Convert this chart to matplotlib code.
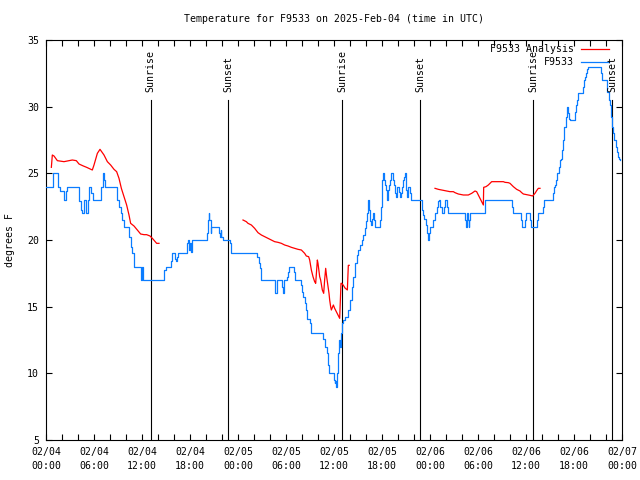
import numpy as np
import matplotlib
matplotlib.use("Agg")
import matplotlib.pyplot as plt
from matplotlib.ticker import MultipleLocator, FixedLocator

plt.rcParams['font.family'] = ['DejaVu Sans Mono']

# ---- data (hours since 2025-02-04 00:00 UTC) ----
obs_t = [0.0, 0.92, 1.5, 1.75, 2.25, 2.46, 2.58, 4.08, 4.33, 4.54, 4.75, 4.96, 5.3, 5.42, 5.58, 5.83,
         6.92, 7.17, 7.3, 7.42, 8.83, 9.13, 9.33, 9.54, 9.75, 10.38, 10.58, 10.79, 11.0, 11.9, 12.0, 12.17,
         14.75, 15.0, 15.58, 15.71, 16.08, 16.25, 16.33, 16.54, 17.67, 17.79, 17.92, 18.0, 18.13, 18.21,
         20.08, 20.21, 20.33, 20.42, 20.58, 20.67, 21.58, 21.75, 21.83, 21.92, 22.08, 23.0, 23.08,
         26.42, 26.625, 26.75, 26.92, 28.67, 28.83, 29.46, 29.58, 29.71, 30.13, 30.25, 30.375, 30.96, 31.17,
         31.83, 32.0, 32.17, 32.33, 32.5, 32.625, 32.96, 33.08, 34.67, 34.92, 35.17, 35.25, 35.375,
         36.0, 36.08, 36.17, 36.25, 36.33, 36.5, 36.58, 36.71, 36.83, 36.92, 37.0, 37.125, 37.42, 37.7,
         38.0, 38.21, 38.42, 38.625, 38.83, 39.04, 39.25, 39.46, 39.67, 39.875, 40.0, 40.125, 40.21, 40.29,
         40.375, 40.5, 40.625, 40.79, 40.92, 41.04, 41.125, 41.75, 41.83, 41.96, 42.04, 42.17, 42.29, 42.375,
         42.5, 42.58, 42.67, 42.79, 42.92, 43.0, 43.125, 43.42, 43.54, 43.625, 43.75, 43.875, 44.17, 44.29,
         44.42, 44.54, 44.67, 44.79, 44.875, 44.96, 45.04, 45.125, 45.21, 45.29, 45.375, 45.5, 45.625,
         46.96, 47.04, 47.17, 47.29, 47.46, 47.58, 47.79, 47.92, 48.04, 48.42, 48.625, 48.92, 49.04, 49.17,
         49.25, 49.46, 49.75, 49.875, 50.17, 50.29, 52.375, 52.46, 52.58, 52.71, 52.83, 52.92, 53.04,
         54.875, 58.21, 58.33, 59.33, 59.46, 59.875, 60.0, 60.5, 60.625, 61.42, 61.54, 62.17, 62.25,
         63.42, 63.5, 63.625, 63.75, 63.92, 64.08, 64.25, 64.42, 64.54, 64.67, 64.79, 64.96, 65.08, 65.21,
         65.29, 65.42, 65.5, 66.125, 66.21, 66.33, 66.46, 66.54, 67.17, 67.25, 67.375, 67.5, 67.67, 67.79,
         69.375, 69.5, 70.08, 70.17, 70.33, 70.5, 70.625, 70.75, 70.92, 71.04, 71.21, 71.33, 71.46, 71.58, 71.8]
obs_v = [24.0, 25.0, 24.0, 23.7, 23.0, 23.7, 24.0, 22.9, 22.25, 22.0, 23.0, 22.0, 23.0, 24.0, 23.5, 23.0,
         24.0, 25.0, 24.5, 24.0, 23.0, 22.5, 22.0, 21.5, 21.0, 20.25, 19.5, 19.0, 18.0, 17.0, 18.0, 17.0,
         17.75, 18.0, 18.4, 19.0, 18.6, 18.4, 18.7, 19.0, 19.75, 20.0, 19.25, 19.75, 19.1, 20.0,
         20.5, 21.5, 22.0, 21.5, 20.5, 21.0, 20.5, 20.25, 20.75, 20.25, 20.0, 19.75, 19.0,
         18.75, 18.25, 17.875, 17.0, 16.0, 17.0, 16.5, 16.0, 17.0, 17.25, 17.6, 18.0, 17.6, 17.0,
         16.6, 16.1, 15.7, 15.25, 14.75, 14.1, 13.75, 13.0, 12.6, 12.0, 11.5, 10.6, 10.0,
         9.5, 9.25, 9.4, 9.0, 10.0, 11.5, 12.5, 12.0, 12.5, 13.0, 13.75, 14.0, 14.25, 14.75,
         15.5, 16.5, 17.25, 18.25, 18.9, 19.25, 19.6, 20.0, 20.4, 20.9, 21.4, 22.0, 22.75, 23.0,
         22.25, 21.4, 21.1, 21.6, 22.0, 21.5, 21.0, 21.5, 22.5, 23.5, 24.5, 25.0, 24.5, 24.1,
         23.75, 23.25, 23.0, 23.75, 24.1, 24.5, 25.0, 24.5, 24.1, 23.5, 23.25, 24.0, 23.6, 23.25,
         23.5, 24.0, 24.5, 24.75, 25.0, 24.5, 23.75, 23.25, 23.5, 24.0, 24.0, 23.5, 23.0,
         22.75, 22.25, 21.9, 21.6, 21.1, 20.55, 20.0, 20.55, 21.0, 21.5, 22.0, 22.5, 22.9, 23.0,
         22.5, 22.0, 22.5, 23.0, 22.5, 22.0, 21.5, 21.0, 22.0, 21.5, 21.0, 21.5, 22.0,
         23.0, 22.5, 22.0, 21.5, 21.0, 21.5, 22.0, 21.5, 21.0, 21.5, 22.0, 22.5, 23.0,
         23.5, 24.0, 24.1, 24.5, 25.0, 25.5, 26.0, 26.1, 26.75, 27.5, 28.5, 29.25, 30.0, 29.75,
         29.5, 29.1, 29.0, 29.6, 30.1, 30.5, 30.75, 31.0, 31.5, 32.0, 32.25, 32.5, 32.8, 33.0,
         32.5, 32.0, 31.75, 31.1, 30.5, 30.1, 29.25, 28.5, 28.0, 27.5, 27.0, 26.6, 26.25, 26.05, 26.0]

ana_t = [0.67, 0.79, 1.0, 1.42, 2.25, 3.29, 3.79, 4.125, 4.67, 5.08, 5.79, 6.0, 6.42, 6.75, 7.25, 7.67,
         8.08, 8.5, 8.83, 9.125, 9.42, 9.75, 10.08, 10.375, 10.58, 11.0, 11.42, 11.83, 12.25, 12.58,
         13.0, 13.33, 13.625, 13.83, 14.125, np.nan,
         24.625, 25.04, 25.25, 25.67, 26.08, 26.5, 26.92, 27.33, 27.75, 28.17, 28.58, 29.0, 29.42, 29.83,
         30.25, 30.67, 31.08, 31.5, 31.92, 32.125, 32.33, 32.54, 32.83, 32.96, 33.17, 33.375, 33.58,
         33.71, 33.83, 33.92, 34.0, 34.125, 34.21, 34.33, 34.54, 34.71, 34.83, 34.96, 35.08, 35.25,
         35.375, 35.46, 35.58, 35.67, 35.83, 35.92, 36.08, 36.29, 36.5, 36.71, 36.79, 36.875, 36.96,
         37.17, 37.375, 37.67, 37.79, 37.9, np.nan,
         48.625, 49.04, 49.46, 50.08, 50.5, 50.92, 51.125, 51.54, 52.17, 52.79, 53.21, 53.625, 53.83,
         54.04, 54.25, 54.46, 54.67, 54.71, 55.0, 55.29, 55.5, 55.71, 56.33, 57.17, 57.375, 57.79, 58.0,
         58.21, 58.42, 58.83, 59.25, 59.46, 59.67, 60.08, 60.5, 60.83, 61.125, 61.33, 61.54, 61.75]
ana_v = [25.45, 26.375, 26.3, 25.95, 25.875, 26.0, 25.95, 25.7, 25.55, 25.45, 25.25, 25.625, 26.5, 26.8,
         26.375, 25.875, 25.625, 25.3, 25.125, 24.625, 23.875, 23.25, 22.625, 21.875, 21.25, 21.05,
         20.75, 20.45, 20.4, 20.4, 20.3, 20.1, 19.9, 19.75, 19.75, np.nan,
         21.5, 21.375, 21.25, 21.125, 20.875, 20.55, 20.375, 20.25, 20.125, 20.0, 19.875, 19.825, 19.75,
         19.625, 19.55, 19.45, 19.375, 19.3, 19.25, 19.125, 19.0, 18.8, 18.75, 18.5, 17.75, 17.25, 16.875,
         16.75, 17.75, 18.5, 18.25, 17.625, 17.25, 17.0, 16.25, 16.0, 17.0, 17.875, 17.25, 16.5,
         16.0, 15.5, 15.0, 14.75, 15.0, 15.125, 14.875, 14.625, 14.375, 14.125, 15.5, 16.75, 16.75,
         16.6, 16.4, 16.25, 18.1, 18.1, np.nan,
         23.875, 23.8, 23.75, 23.675, 23.625, 23.625, 23.55, 23.45, 23.375, 23.375, 23.5, 23.675, 23.625,
         23.375, 23.125, 22.875, 22.625, 23.95, 24.0, 24.125, 24.25, 24.375, 24.375, 24.375, 24.325, 24.3,
         24.25, 24.125, 24.0, 23.8, 23.675, 23.55, 23.45, 23.4, 23.35, 23.3, 23.5, 23.7, 23.875, 23.875]

sunrise_t = [13.08, 37.06, 60.92]
sunset_t = [22.8, 46.8, 70.8]

xtick_pos = [0, 6, 12, 18, 24, 30, 36, 42, 48, 54, 60, 66, 72]
xtick_lab = ["02/04\n00:00", "02/04\n06:00", "02/04\n12:00", "02/04\n18:00",
             "02/05\n00:00", "02/05\n06:00", "02/05\n12:00", "02/05\n18:00",
             "02/06\n00:00", "02/06\n06:00", "02/06\n12:00", "02/06\n18:00",
             "02/07\n00:00"]
yticks = [5, 10, 15, 20, 25, 30, 35]

BLUE = '#0a7cff'
RED = '#ff0000'
FS = 7.1
LW = 0.8

fig = plt.figure(figsize=(6.4, 4.8), dpi=100)
ax = fig.add_axes([46/640, 40/480, 576/640, 400/480])

ax.plot(obs_t, obs_v, color=BLUE, lw=LW + 0.1, drawstyle='steps-post', zorder=3)
ax.plot(ana_t, ana_v, color=RED, lw=LW + 0.1, zorder=3)

trans = ax.get_xaxis_transform()
for t in sunrise_t:
    ax.plot([t, t], [0, 0.85], color='black', lw=LW, transform=trans, zorder=2)
    ax.text(t, 0.87, "Sunrise", rotation=90, ha='center', va='bottom', transform=trans,
            fontsize=FS)
for t in sunset_t:
    ax.plot([t, t], [0, 0.85], color='black', lw=LW, transform=trans, zorder=2)
    ax.text(t, 0.87, "Sunset", rotation=90, ha='center', va='bottom', transform=trans,
            fontsize=FS)

ax.set_xlim(0, 72)
ax.set_ylim(5, 35)
ax.xaxis.set_major_locator(FixedLocator(xtick_pos))
ax.set_xticklabels(xtick_lab, linespacing=1.55)
ax.xaxis.set_minor_locator(MultipleLocator(2))
ax.set_yticks(yticks)
ax.tick_params(which='both', direction='in', top=True, right=True, length=4, width=LW,
               labelsize=FS, color='black')
ax.tick_params(axis='x', pad=5)
ax.tick_params(axis='y', pad=5)
for s in ax.spines.values():
    s.set_linewidth(LW)

ax.set_ylabel("degrees F", fontsize=FS)
ax.yaxis.set_label_coords(-0.053, 0.5)

ax.set_title("Temperature for F9533 on 2025-Feb-04 (time in UTC)", fontsize=FS, pad=13)

# legend (manual, gnuplot style)
ax.text(0.9167, 0.9775, "F9533 Analysis", transform=ax.transAxes, ha='right', va='center',
        fontsize=FS)
ax.plot([0.9288, 0.9774], [0.9775, 0.9775], color=RED, lw=LW + 0.1, transform=ax.transAxes, clip_on=False)
ax.text(0.9167, 0.945, "F9533", transform=ax.transAxes, ha='right', va='center', fontsize=FS)
ax.plot([0.9288, 0.9774], [0.945, 0.945], color=BLUE, lw=LW + 0.1, transform=ax.transAxes, clip_on=False)

fig.savefig("out.png", dpi=100)
